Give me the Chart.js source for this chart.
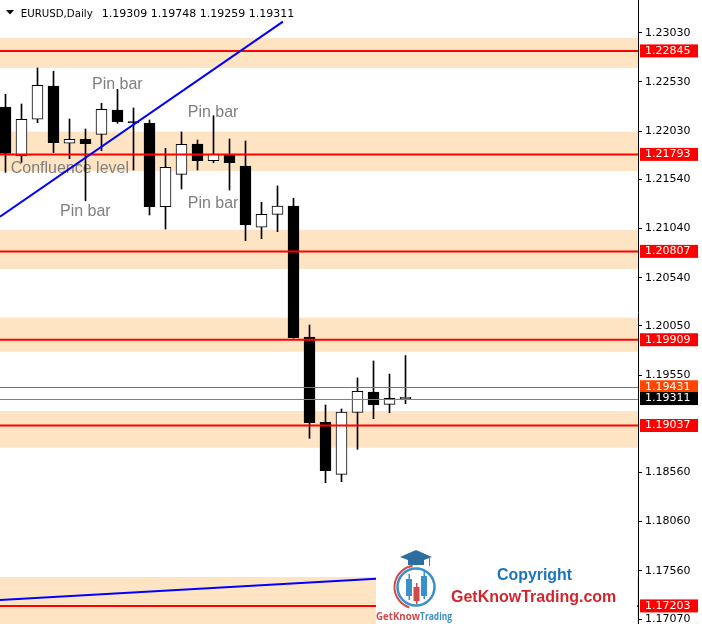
<!DOCTYPE html>
<html>
<head>
<meta charset="utf-8">
<script src="https://cdn.jsdelivr.net/npm/chart.js@4.4.1/dist/chart.umd.min.js"></script>
<style>
    html, body { margin: 0; padding: 0; background: #fff; }
    #wrap { position: relative; width: 702px; height: 624px; }
</style>
</head>
<body>
<div id="wrap"><canvas id="eurusd"></canvas></div>
<script>
// EURUSD, Daily - candles from left to right
let opens  = [1.22275, 1.21777, 1.22150, 1.22488, 1.21906, 1.21946, 1.21997, 1.22244, 1.22118, 1.22109, 1.21261, 1.21590, 1.21899,
              1.21729, 1.21794, 1.21675, 1.21052, 1.21184, 1.21268, 1.19937, 1.19069, 1.18541, 1.19171, 1.19377, 1.19252, 1.19309];
let highs  = [1.22404, 1.22305, 1.22671, 1.22638, 1.22153, 1.22051, 1.22312, 1.22455, 1.22265, 1.22143, 1.21855, 1.22021, 1.21939,
              1.22186, 1.21949, 1.21929, 1.21306, 1.21472, 1.21347, 1.20059, 1.19245, 1.19205, 1.19520, 1.19693, 1.19560, 1.19748];
let lows   = [1.21611, 1.21712, 1.22115, 1.21810, 1.21749, 1.21322, 1.21830, 1.22109, 1.21634, 1.21177, 1.21034, 1.21441, 1.21634,
              1.21708, 1.21431, 1.20916, 1.20936, 1.21007, 1.19925, 1.18907, 1.18455, 1.18466, 1.18795, 1.19106, 1.19167, 1.19259];
let closes = [1.21804, 1.22150, 1.22495, 1.21912, 1.21946, 1.21902, 1.22251, 1.22125, 1.22112, 1.21261, 1.21662, 1.21896, 1.21729,
              1.21797, 1.21708, 1.21075, 1.21184, 1.21268, 1.19929, 1.19065, 1.18577, 1.19174, 1.19385, 1.19248, 1.19313, 1.19311];

// price axis
let tickValues = [1.23030, 1.22530, 1.22030, 1.21540, 1.21040, 1.20540, 1.20050, 1.19550, 1.18560, 1.18060, 1.17560, 1.17070];
let tickLabels = ['1.23030', '1.22530', '1.22030', '1.21540', '1.21040', '1.20540', '1.20050', '1.19550', '1.18560', '1.18060', '1.17560', '1.17070'];
let yMin = 1.170192;
let yMax = 1.233624;
let xMin = -0.34375;
let xMax = 39.53125;

// support / resistance levels and zones
let levels      = [1.22845, 1.21793, 1.20807, 1.19909, 1.19037, 1.17203];
let levelLabels = ['1.22845', '1.21793', '1.20807', '1.19909', '1.19037', '1.17203'];
let bandTops    = [1.22976, 1.22024, 1.21024, 1.20133, 1.19184, 1.17497];
let bandBottoms = [1.22671, 1.21624, 1.20628, 1.19787, 1.18811, 1.16900];
let askPrice = 1.19431;
let bidPrice = 1.19311;

// trend lines
let trendUp  = [{x: -0.344, y: 1.21160}, {x: 17.34, y: 1.23142}];
let trendLow = [{x: -0.344, y: 1.17263}, {x: 23.16, y: 1.17479}];

// notes on the chart
let noteTexts = ['Pin bar', 'Pin bar', 'Pin bar', 'Pin bar', 'Confluence level'];
let noteX     = [5.406, 11.39, 3.406, 11.39, 0.325];
let noteY     = [1.22498, 1.22217, 1.21210, 1.21296, 1.21644];

let header = 'EURUSD,Daily';
let headerPrices = [opens[25], highs[25], lows[25], closes[25]].map(v => v.toFixed(5)).join(' ');

let axisFont = '11px "DejaVu Sans"';

let mtPlugin = {
    id: 'mt4',
    beforeDatasetsDraw(chart) {
        let ctx = chart.ctx, a = chart.chartArea, y = chart.scales.y, x = chart.scales.x;
        ctx.save();
        ctx.beginPath();
        ctx.rect(a.left, a.top, a.width, a.height);
        ctx.clip();
        ctx.fillStyle = '#FFE4C4';
        for (let i = 0; i < bandTops.length; i++) {
            let t = y.getPixelForValue(bandTops[i]);
            let b = y.getPixelForValue(bandBottoms[i]);
            ctx.fillRect(a.left, t, a.width, b - t);
        }
        ctx.fillStyle = '#808080';
        ctx.font = '16px "Liberation Sans"';
        ctx.textBaseline = 'middle';
        for (let i = 0; i < noteTexts.length; i++) {
            ctx.fillText(noteTexts[i], x.getPixelForValue(noteX[i]), y.getPixelForValue(noteY[i]));
        }
        ctx.restore();
    },
    afterDatasetDraw(chart, args) {
        if (chart.data.datasets[args.index].label !== 'bodies') return;
        let ctx = chart.ctx, a = chart.chartArea, y = chart.scales.y;
        ctx.save();
        ctx.beginPath();
        ctx.rect(a.left, a.top, a.width, a.height);
        ctx.clip();
        ctx.strokeStyle = '#FF0000';
        ctx.lineWidth = 2;
        levels.forEach(v => {
            let p = y.getPixelForValue(v);
            ctx.beginPath();
            ctx.moveTo(a.left, p);
            ctx.lineTo(a.right, p);
            ctx.stroke();
        });
        ctx.lineWidth = 1;
        ctx.strokeStyle = '#FF4500';
        let pa = Math.round(y.getPixelForValue(askPrice)) + 0.5;
        ctx.beginPath(); ctx.moveTo(a.left, pa); ctx.lineTo(a.right, pa); ctx.stroke();
        ctx.strokeStyle = '#808080';
        let pb = Math.round(y.getPixelForValue(bidPrice)) + 0.5;
        ctx.beginPath(); ctx.moveTo(a.left, pb); ctx.lineTo(a.right, pb); ctx.stroke();
        ctx.restore();
    },
    afterDatasetsDraw(chart) {
        let ctx = chart.ctx;
        ctx.save();
        // watermark logo block
        ctx.fillStyle = '#ffffff';
        ctx.fillRect(376, 548, 261, 76);

        ctx.strokeStyle = '#D04A48';
        ctx.lineWidth = 2;
        ctx.beginPath();
        ctx.arc(416, 587, 21.5, Math.PI * 0.6, Math.PI * 1.45);
        ctx.stroke();
        ctx.strokeStyle = '#3B8FCB';
        ctx.lineWidth = 2.5;
        ctx.beginPath();
        ctx.arc(416, 587, 18.5, 0, Math.PI * 2);
        ctx.stroke();

        ctx.fillStyle = '#2D6E9E';
        ctx.beginPath();
        ctx.moveTo(400, 557); ctx.lineTo(416, 550); ctx.lineTo(432, 557); ctx.lineTo(416, 563);
        ctx.closePath();
        ctx.fill();
        ctx.fillRect(408, 559, 16, 6);
        ctx.strokeStyle = '#D04A48';
        ctx.lineWidth = 1;
        ctx.beginPath(); ctx.moveTo(429.5, 557); ctx.lineTo(429.5, 566); ctx.stroke();

        let mini = [[409, 574, 600, 579, 596, '#3B8FCB'], [416.5, 583, 604, 587, 601, '#D04A48'], [424, 571, 599, 576, 596, '#3B8FCB']];
        mini.forEach(m => {
            ctx.fillStyle = m[5];
            ctx.fillRect(m[0] - 0.5, m[1], 1.5, m[2] - m[1]);
            ctx.fillRect(m[0] - 3, m[3], 6, m[4] - m[3]);
        });

        ctx.font = 'bold 10.5px "Open Sans"';
        ctx.textBaseline = 'alphabetic';
        ctx.fillStyle = '#CF4B4B';
        ctx.fillText('GetKnow', 376, 620, 44);
        ctx.fillStyle = '#3C8DC5';
        ctx.fillText('Trading', 420, 620, 32);

        ctx.font = 'bold 16px "Liberation Sans"';
        ctx.fillStyle = '#1B75BB';
        ctx.fillText('Copyright', 497, 580, 75);
        ctx.fillStyle = '#D2262E';
        ctx.fillText('GetKnowTrading.com', 451, 602, 167);
        ctx.restore();
    },
    afterDraw(chart) {
        let ctx = chart.ctx, y = chart.scales.y, a = chart.chartArea;
        ctx.save();
        ctx.font = axisFont;
        ctx.textBaseline = 'middle';
        let box = (v, txt, bg) => {
            let p = y.getPixelForValue(v);
            ctx.fillStyle = bg;
            ctx.fillRect(a.right + 2, p - 6.5, 58, 13);
            ctx.fillStyle = '#ffffff';
            ctx.fillText(txt, a.right + 7, p);
        };
        levels.forEach((v, i) => box(v, levelLabels[i], '#FF0000'));
        box(askPrice, askPrice.toFixed(5), '#FF4500');
        box(bidPrice, bidPrice.toFixed(5), '#000000');

        // header
        ctx.fillStyle = '#000000';
        ctx.beginPath();
        ctx.moveTo(6, 10); ctx.lineTo(14, 10); ctx.lineTo(10, 14.5);
        ctx.closePath();
        ctx.fill();
        ctx.textBaseline = 'alphabetic';
        ctx.fillText(header, 20.7, 17, 72);
        ctx.fillText(headerPrices, 101.7, 17);
        ctx.restore();
    }
};

let ctx = document.getElementById('eurusd').getContext('2d');

let myChart = new Chart(ctx, {
    type: 'bar',
    data: {
        datasets: [{
            type: 'line',
            label: 'trend1',
            data: trendUp,
            borderColor: '#0000FF',
            borderWidth: 2,
            pointRadius: 0,
            order: 0
        }, {
            type: 'line',
            label: 'trend2',
            data: trendLow,
            borderColor: '#0000FF',
            borderWidth: 2,
            pointRadius: 0,
            order: 0
        }, {
            label: 'bodies',
            data: opens.map((o, i) => ({x: i, y: [o, closes[i]]})),
            backgroundColor: opens.map((o, i) => closes[i] >= o ? '#FFFFFF' : '#000000'),
            borderColor: '#000000',
            borderWidth: 1,
            borderSkipped: false,
            barThickness: 11,
            minBarLength: 1.5,
            grouped: false,
            order: 1
        }, {
            label: 'wicks',
            data: lows.map((l, i) => ({x: i, y: [l, highs[i]]})),
            backgroundColor: '#000000',
            borderWidth: 0,
            barThickness: 1,
            grouped: false,
            order: 2
        }]
    },
    options: {
        responsive: true,
        maintainAspectRatio: false,
        animation: false,
        events: [],
        layout: { padding: 0 },
        plugins: {
            legend: { display: false },
            tooltip: { enabled: false }
        },
        scales: {
            x: {
                type: 'linear',
                display: false,
                offset: false,
                min: xMin,
                max: xMax
            },
            y: {
                type: 'linear',
                position: 'right',
                min: yMin,
                max: yMax,
                afterBuildTicks: (s) => {
                    s.ticks = tickValues.map(v => ({value: v}));
                },
                afterFit: (s) => {
                    s.width = 64;
                    s.paddingTop = 0;
                    s.paddingBottom = 0;
                },
                ticks: {
                    autoSkip: false,
                    padding: 3,
                    color: '#000000',
                    font: { family: 'DejaVu Sans', size: 11 },
                    callback: (value, index) => tickLabels[index]
                },
                grid: {
                    drawOnChartArea: false,
                    drawTicks: true,
                    tickLength: 4,
                    color: '#000000'
                },
                border: { display: true, color: '#000000', width: 1 }
            }
        }
    },
    plugins: [mtPlugin]
});
</script>
</body>
</html>
